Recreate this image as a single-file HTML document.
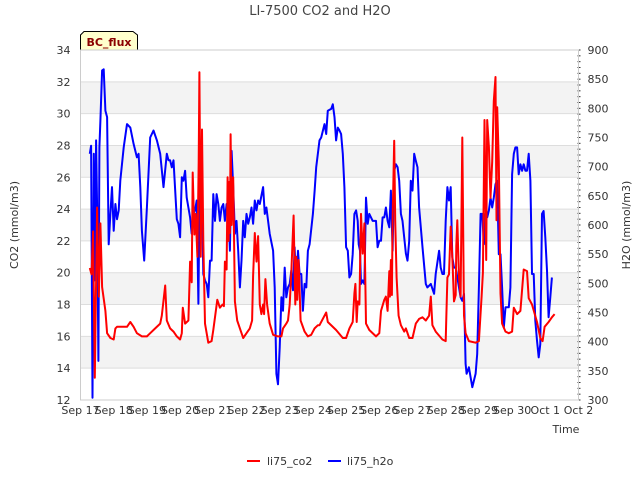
<!DOCTYPE html>
<html><head><meta charset="utf-8"><style>
body{margin:0;background:#fff;font-family:"Liberation Sans",sans-serif}
svg{display:block}
text{font-family:"DejaVu Sans","Liberation Sans",sans-serif}
</style></head><body>
<svg id="c" width="640" height="480">
<text x="320" y="15" text-anchor="middle" font-size="13" fill="#444">LI-7500 CO2 and H2O</text>
<text x="18" y="225" text-anchor="middle" font-size="11" fill="#333" transform="rotate(-90 18 225)">CO2 (mmol/m3)</text>
<text x="630" y="225" text-anchor="middle" font-size="11" fill="#333" transform="rotate(-90 630 225)">H2O (mmol/m3)</text>
<text x="566" y="433" text-anchor="middle" font-size="11" fill="#333">Time</text>
<g>
<path d="M80.5,50 L80.5,35 L84,31.5 L133,31.5 L137.5,35 L137.5,50 Z" fill="#ffffcc" stroke="#000" stroke-width="1"/>
<text x="109" y="46" text-anchor="middle" font-size="11" font-weight="bold" fill="#8b0000">BC_flux</text>
</g>
<g>
<line x1="247" y1="461" x2="260" y2="461" stroke="#f00" stroke-width="2"/>
<text x="267" y="465" font-size="11" fill="#333">li75_co2</text>
<line x1="328" y1="461" x2="341" y2="461" stroke="#00f" stroke-width="2"/>
<text x="347" y="465" font-size="11" fill="#333">li75_h2o</text>
</g>
<g id="plot"></g>
</svg>
<script>
const xLabels=["Sep 17","Sep 18","Sep 19","Sep 20","Sep 21","Sep 22","Sep 23","Sep 24","Sep 25","Sep 26","Sep 27","Sep 28","Sep 29","Sep 30","Oct 1","Oct 2"];
const leftTicks=[12,14,16,18,20,22,24,26,28,30,32,34];
const rightTicks=[300,350,400,450,500,550,600,650,700,750,800,850,900];
const co2Days=[0.28,0.33,0.38,0.43,0.5,0.55,0.6,0.65,0.75,0.8,0.9,1.0,1.05,1.1,1.4,1.5,1.6,1.7,1.85,2.0,2.1,2.25,2.4,2.45,2.55,2.6,2.7,2.8,2.9,3.0,3.05,3.08,3.15,3.25,3.3,3.35,3.38,3.43,3.47,3.52,3.56,3.58,3.62,3.66,3.7,3.75,3.85,3.95,4.0,4.05,4.12,4.2,4.28,4.32,4.35,4.4,4.43,4.46,4.48,4.5,4.52,4.55,4.6,4.65,4.72,4.8,4.9,5.0,5.1,5.17,5.2,5.25,5.3,5.35,5.4,5.45,5.5,5.53,5.57,5.62,5.7,5.8,5.95,6.05,6.1,6.2,6.25,6.3,6.35,6.42,6.47,6.5,6.53,6.57,6.63,6.75,6.85,6.95,7.05,7.15,7.2,7.4,7.45,7.7,7.9,8.0,8.1,8.2,8.25,8.28,8.32,8.35,8.4,8.45,8.5,8.55,8.6,8.7,8.9,9.0,9.05,9.15,9.2,9.25,9.3,9.32,9.35,9.38,9.4,9.45,9.48,9.52,9.58,9.65,9.75,9.8,9.9,10.0,10.1,10.2,10.3,10.4,10.5,10.55,10.6,10.7,10.9,11.0,11.02,11.05,11.1,11.15,11.2,11.25,11.3,11.32,11.35,11.4,11.45,11.5,11.55,11.6,11.7,11.9,12.0,12.08,12.12,12.17,12.22,12.25,12.3,12.35,12.4,12.45,12.5,12.53,12.55,12.6,12.65,12.7,12.8,12.9,13.0,13.05,13.15,13.25,13.35,13.45,13.5,13.6,13.75,13.85,13.92,13.98,14.1,14.2,14.28];
const co2Vals=[20.3,19.9,22.6,13.4,24.1,18.5,23.1,19.1,17.6,16.2,15.9,15.8,16.5,16.6,16.6,16.9,16.6,16.2,16.0,16.0,16.2,16.5,16.8,17.3,19.2,17.0,16.5,16.3,16.0,15.8,16.2,17.8,16.8,17.0,20.7,19.4,26.3,22.4,23.7,21.0,27.0,32.6,21.0,29.0,22.0,16.8,15.6,15.7,16.4,17.2,18.3,17.8,18.0,17.9,20.7,20.2,26.0,22.0,25.7,22.5,28.7,23.0,26.0,18.2,17.0,16.5,15.9,16.2,16.5,17.0,19.8,22.5,20.7,22.3,18.0,17.4,18.0,17.4,19.6,18.0,16.8,16.1,16.0,16.0,16.5,16.8,17.0,18.0,20.0,23.6,18.0,21.0,18.3,20.8,17.0,16.3,16.0,16.1,16.5,16.7,16.7,17.5,16.9,16.4,15.9,15.9,16.5,16.9,18.7,19.3,16.9,18.2,18.0,23.7,21.2,23.1,16.8,16.4,16.0,16.2,17.6,18.3,18.5,17.6,20.1,18.5,20.8,18.6,23.3,28.3,23.3,19.7,17.3,16.7,16.3,16.5,15.9,15.9,16.8,17.1,17.2,17.0,17.3,18.5,16.7,16.3,15.8,15.7,17.4,19.7,19.9,22.9,21.0,18.2,18.6,21.7,23.3,19.7,18.5,28.5,17.3,16.2,15.7,15.6,15.7,18.5,20.0,29.6,20.8,29.6,27.9,24.7,27.0,30.8,32.3,23.3,30.4,27.0,18.7,16.8,16.3,16.2,16.3,17.8,17.4,17.6,20.2,20.1,18.4,18.0,16.9,15.9,15.7,16.6,16.9,17.2,17.4];
const h2oDays=[0.28,0.32,0.36,0.4,0.43,0.47,0.5,0.54,0.57,0.6,0.65,0.7,0.75,0.8,0.85,0.9,0.95,1.0,1.05,1.1,1.15,1.2,1.3,1.4,1.5,1.6,1.7,1.75,1.8,1.85,1.92,2.0,2.1,2.2,2.3,2.4,2.5,2.6,2.65,2.7,2.75,2.8,2.9,2.95,3.0,3.05,3.1,3.15,3.2,3.25,3.3,3.35,3.4,3.45,3.5,3.55,3.6,3.65,3.7,3.75,3.8,3.85,3.9,3.95,4.0,4.05,4.1,4.15,4.2,4.25,4.3,4.35,4.4,4.45,4.5,4.55,4.6,4.65,4.7,4.75,4.8,4.85,4.9,4.95,5.0,5.05,5.1,5.15,5.2,5.25,5.3,5.35,5.4,5.5,5.55,5.6,5.7,5.8,5.85,5.9,5.95,6.0,6.05,6.1,6.15,6.2,6.25,6.3,6.35,6.4,6.45,6.5,6.55,6.6,6.65,6.7,6.75,6.8,6.85,6.9,7.0,7.05,7.1,7.2,7.25,7.35,7.4,7.45,7.55,7.6,7.65,7.7,7.75,7.8,7.85,7.9,7.95,8.0,8.05,8.1,8.15,8.2,8.25,8.3,8.35,8.38,8.42,8.45,8.5,8.55,8.6,8.65,8.7,8.8,8.9,8.95,9.0,9.05,9.1,9.15,9.2,9.25,9.3,9.35,9.4,9.45,9.5,9.55,9.6,9.65,9.7,9.75,9.8,9.85,9.9,9.95,10.0,10.05,10.1,10.15,10.2,10.3,10.4,10.45,10.55,10.65,10.7,10.8,10.85,10.9,10.95,11.0,11.05,11.1,11.15,11.2,11.25,11.3,11.4,11.45,11.5,11.55,11.6,11.63,11.7,11.8,11.9,11.95,12.0,12.05,12.1,12.15,12.2,12.25,12.3,12.35,12.4,12.45,12.5,12.55,12.6,12.65,12.7,12.75,12.8,12.9,12.95,13.0,13.05,13.1,13.15,13.2,13.25,13.3,13.35,13.4,13.45,13.5,13.55,13.6,13.65,13.7,13.75,13.8,13.85,13.9,13.95,14.0,14.05,14.1,14.15,14.2,14.25,14.3];
const h2oVals=[722,736,304,722,505,745,630,367,733,779,865,867,796,785,567,620,665,590,636,610,625,676,733,773,767,739,716,722,665,590,539,630,750,762,745,722,665,722,711,711,699,711,610,602,579,682,676,693,647,630,613,585,619,625,642,465,733,665,516,505,499,476,539,539,653,607,653,636,607,630,636,607,636,636,556,727,665,585,607,556,493,539,607,579,619,602,613,630,602,642,625,642,636,665,619,630,585,556,493,345,327,390,476,453,527,476,493,499,522,488,562,493,556,516,516,453,499,493,556,567,619,658,699,745,750,773,756,796,799,807,785,745,767,762,756,722,665,562,556,510,516,550,619,625,607,567,556,499,505,499,647,602,619,607,607,562,573,573,613,613,630,607,596,659,556,693,704,699,676,619,607,579,551,539,573,676,659,722,710,699,630,562,499,493,499,482,516,556,527,516,516,607,665,642,665,545,527,527,493,476,470,482,362,345,356,322,345,379,493,619,619,567,619,613,625,647,630,647,670,676,550,550,493,424,459,459,493,687,722,733,733,687,704,693,704,693,693,722,676,516,516,436,402,373,396,619,624,579,522,442,476,510];

const NS='http://www.w3.org/2000/svg';
const L=80.5,R=578.5,T=50,B=400;
const xs=d=>L+(R-L)*d/15;
const yL=v=>B-(B-T)*(v-12)/22;
const yR=v=>B-(B-T)*(v-300)/600;
const plot=document.getElementById('plot');
function mk(tag,attrs,parent){const e=document.createElementNS(NS,tag);for(const k in attrs)e.setAttribute(k,attrs[k]);(parent||plot).appendChild(e);return e;}

// shaded bands
for(let v=14;v<34;v+=4){
  const r=mk('rect',{x:L,y:yL(v+2),width:R-L,height:yL(v)-yL(v+2),fill:'#f3f3f3'});
  
  
}
leftTicks.forEach(v=>{
  const g=mk('line',{x1:L,x2:R,y1:yL(v),y2:yL(v),stroke:'#dddddd','stroke-width':1});
  
  
  const t=mk('text',{x:L-10,y:yL(v)+4,'text-anchor':'end','font-size':11,fill:'#333'});
  t.textContent=v;
  
  
});
rightTicks.forEach(v=>{
  const t=mk('text',{x:R+9,y:yR(v)+4,'font-size':11,fill:'#333'});
  t.textContent=v;
  
  
});
for(let v=300;v<=900;v+=10){
  const m=mk('line',{x1:R-1,x2:R+2,y1:yR(v),y2:yR(v),stroke:'#333','stroke-width':1});
  
  
}
xLabels.forEach((s,i)=>{
  const t=mk('text',{x:xs(i),y:414,'text-anchor':'middle','font-size':11,fill:'#333'});
  t.textContent=s;
  
  
});
const fr=mk('rect',{x:L,y:T,width:R-L,height:B-T,fill:'none',stroke:'#cccccc','stroke-width':1});



function series(days,vals,yf,col,name){
  const d=days.map((t,i)=>(i?'L':'M')+xs(t).toFixed(1)+','+yf(vals[i]).toFixed(1)).join(' ');
  const p=mk('path',{d:d,fill:'none',stroke:col,'stroke-width':2,'stroke-linejoin':'round'});
  
  
}
series(h2oDays,h2oVals,yR,'#0000ff','h2o-line');
series(co2Days,co2Vals,yL,'#ff0000','co2-line');
</script>
</body></html>
